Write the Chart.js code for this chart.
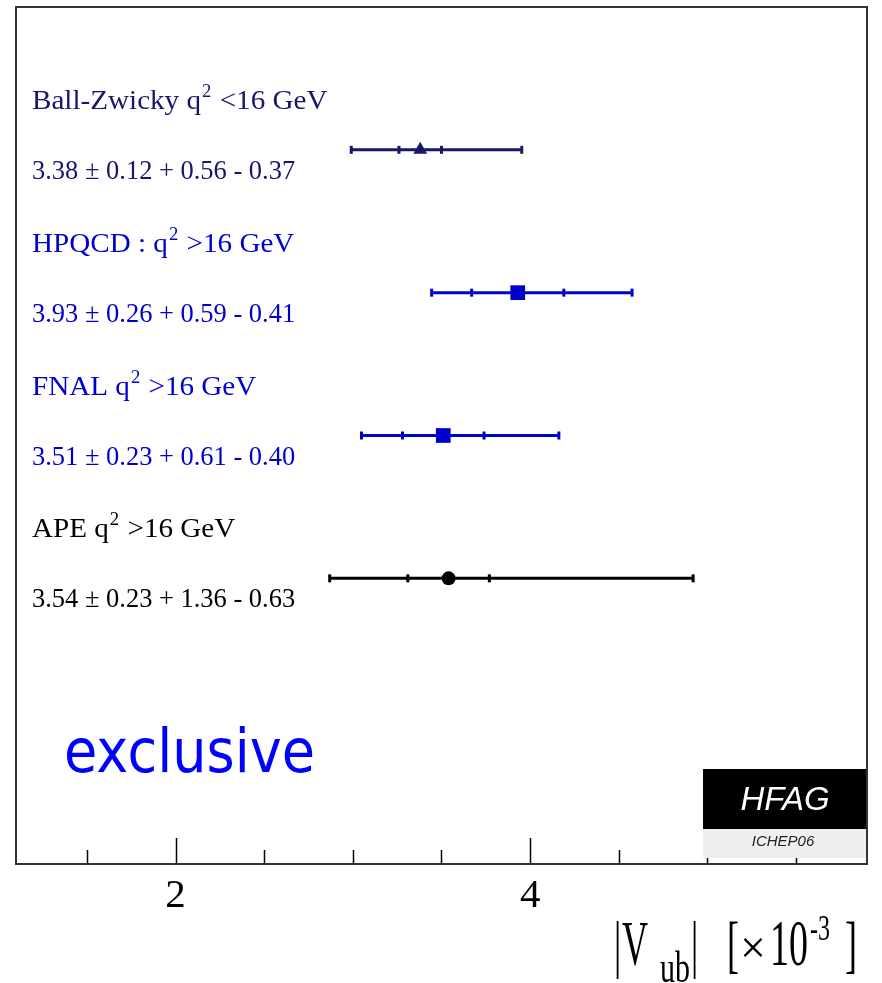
<!DOCTYPE html>
<html>
<head>
<meta charset="utf-8">
<title>|Vub| exclusive</title>
<script src="https://cdn.jsdelivr.net/npm/chart.js@4.4.1/dist/chart.umd.min.js"></script>
<style>
  html, body { margin: 0; padding: 0; background: #fff; }
  #wrap { width: 882px; height: 983px; position: relative; }
</style>
</head>
<body>
<div id="wrap"><canvas id="vubChart"></canvas></div>
<script>
// measurements (|Vub| x 10^-3)
const names = ["Ball-Zwicky", "HPQCD :", "FNAL", "APE"];
const cuts = ["<16 GeV", ">16 GeV", ">16 GeV", ">16 GeV"];
const central = [3.38, 3.93, 3.51, 3.54];
const statErr = [0.12, 0.26, 0.23, 0.23];
const systUp = [0.56, 0.59, 0.61, 1.36];
const systDown = [0.37, 0.41, 0.40, 0.63];
const rowY = [5, 4, 3, 2];
const markers = ["triangle", "rect", "rect", "circle"];
const markerSize = [8, 10.4, 10.4, 7];
const colors = ["#16166c", "#0000cc", "#0000cc", "#000000"];

// x axis
const xMin = 1.1, xMax = 5.9;
const tickValues = [1.5, 2, 2.5, 3, 3.5, 4, 4.5, 5, 5.5];
const tickLabels = [2, 4];

function totalErr(s, d) {
  return Math.sqrt(s * s + d * d);
}

const datasets = [];
central.forEach((c, i) => {
  const lo = c - totalErr(statErr[i], systDown[i]);
  const hi = c + totalErr(statErr[i], systUp[i]);
  // central marker
  datasets.push({
    type: "scatter",
    data: [{ x: c, y: rowY[i] }],
    pointStyle: markers[i],
    pointRadius: markerSize[i],
    pointHoverRadius: markerSize[i],
    backgroundColor: colors[i],
    borderColor: colors[i],
    borderWidth: 0,
    order: 0
  });
  // error bar: total and stat-only end marks
  datasets.push({
    type: "line",
    data: [
      { x: lo, y: rowY[i] },
      { x: c - statErr[i], y: rowY[i] },
      { x: c + statErr[i], y: rowY[i] },
      { x: hi, y: rowY[i] }
    ],
    borderColor: colors[i],
    backgroundColor: colors[i],
    borderWidth: 3,
    pointStyle: "line",
    rotation: 90,
    pointRadius: 4,
    pointHoverRadius: 4,
    pointBorderWidth: 3,
    tension: 0,
    order: 1
  });
});

// text drawn with a horizontal/vertical stretch
function stretchText(ctx, text, x, y, font, color, sx, sy) {
  ctx.save();
  ctx.font = font;
  ctx.fillStyle = color;
  ctx.textAlign = "left";
  ctx.textBaseline = "alphabetic";
  ctx.translate(x, y);
  ctx.scale(sx, sy || 1);
  ctx.fillText(text, 0, 0);
  const w = ctx.measureText(text).width * sx;
  ctx.restore();
  return w;
}

const decorations = {
  id: "decorations",
  afterDraw(chart) {
    const ctx = chart.ctx;
    const area = chart.chartArea;
    const xs = chart.scales.x;
    const ys = chart.scales.y;

    // inward tick marks
    ctx.save();
    ctx.strokeStyle = "#000";
    ctx.lineWidth = 1.5;
    tickValues.forEach(v => {
      const px = Math.round(xs.getPixelForValue(v)) + 0.5;
      const len = tickLabels.includes(v) ? 26 : 14;
      ctx.beginPath();
      ctx.moveTo(px, area.bottom);
      ctx.lineTo(px, area.bottom - len);
      ctx.stroke();
    });
    ctx.restore();

    // row labels
    const titleFont = "28px 'Liberation Serif'";
    const supFont = "18px 'Liberation Serif'";
    const valueFont = "27px 'Liberation Serif'";
    names.forEach((n, i) => {
      const yRow = ys.getPixelForValue(rowY[i]);
      const yTitle = yRow - 41;
      const yVal = yRow + 29;
      let x = 32;
      x += stretchText(ctx, n + " q", x, yTitle, titleFont, colors[i], 1.04);
      x += stretchText(ctx, "2", x + 1, yTitle - 12, supFont, colors[i], 1.04);
      stretchText(ctx, " " + cuts[i], x + 2, yTitle, titleFont, colors[i], 1.04);
      const txt = central[i].toFixed(2) + " \u00b1 " + statErr[i].toFixed(2) +
        " + " + systUp[i].toFixed(2) + " - " + systDown[i].toFixed(2);
      stretchText(ctx, txt, 32, yVal, valueFont, colors[i], 0.98);
    });

    // "exclusive"
    ctx.save();
    ctx.font = "60px 'DejaVu Sans'";
    const ew = ctx.measureText("exclusive").width;
    ctx.restore();
    stretchText(ctx, "exclusive", 64, 772, "60px 'DejaVu Sans'", "#0000ff", 251 / ew);

    // HFAG badge
    ctx.save();
    ctx.fillStyle = "#000";
    ctx.fillRect(703, 769, area.right - 703, 60);
    ctx.fillStyle = "#efefef";
    ctx.fillRect(703, 829, area.right - 703, 29);
    ctx.textAlign = "center";
    ctx.fillStyle = "#fff";
    ctx.font = "italic 33px 'Liberation Sans'";
    ctx.fillText("HFAG", 785, 810);
    ctx.fillStyle = "#222";
    ctx.font = "italic 15px 'Liberation Sans'";
    ctx.fillText("ICHEP06", 783, 846);
    ctx.restore();

    // frame
    ctx.save();
    ctx.strokeStyle = "#333";
    ctx.lineWidth = 2;
    ctx.strokeRect(area.left, area.top, area.right - area.left, area.bottom - area.top);
    ctx.restore();

    // axis title |Vub| [x 10^-3]
    const big = "36px 'Liberation Serif'";
    const base = 965;
    stretchText(ctx, "|", 614, base, big, "#000", 1, 1.75);
    stretchText(ctx, "V", 622, base, big, "#000", 1, 1.75);
    stretchText(ctx, "ub", 660, 982, "30px 'Liberation Serif'", "#000", 1, 1.45);
    stretchText(ctx, "|", 691, base, big, "#000", 1, 1.75);
    stretchText(ctx, "[", 727, base, big, "#000", 1, 1.75);
    stretchText(ctx, "\u00d7", 740, base - 2, "46px 'Liberation Serif'", "#000", 1, 1);
    stretchText(ctx, "10", 770, base, "38px 'Liberation Serif'", "#000", 1, 1.7);
    stretchText(ctx, "-3", 810, 940, "24px 'Liberation Serif'", "#000", 1, 1.45);
    stretchText(ctx, "]", 845, base, big, "#000", 1, 1.75);
  }
};

const ctx = document.getElementById("vubChart");
new Chart(ctx, {
  data: { datasets: datasets },
  options: {
    responsive: true,
    maintainAspectRatio: false,
    animation: false,
    events: [],
    layout: { autoPadding: false, padding: { left: 16, right: 15, top: 7, bottom: 0 } },
    plugins: {
      legend: { display: false },
      tooltip: { enabled: false }
    },
    scales: {
      x: {
        type: "linear",
        min: xMin,
        max: xMax,
        grid: { display: false },
        border: { display: false },
        afterBuildTicks: s => {
          s.ticks = tickValues.map(v => ({ value: v }));
        },
        afterFit: s => {
          s.height = 119;
        },
        ticks: {
          autoSkip: false,
          maxRotation: 0,
          padding: 0,
          color: "#000",
          font: { family: "Liberation Serif", size: 41 },
          callback: v => (tickLabels.includes(v) ? String(v) : "")
        }
      },
      y: {
        type: "linear",
        min: 0,
        max: 6,
        display: false
      }
    }
  },
  plugins: [decorations]
});
</script>
</body>
</html>
